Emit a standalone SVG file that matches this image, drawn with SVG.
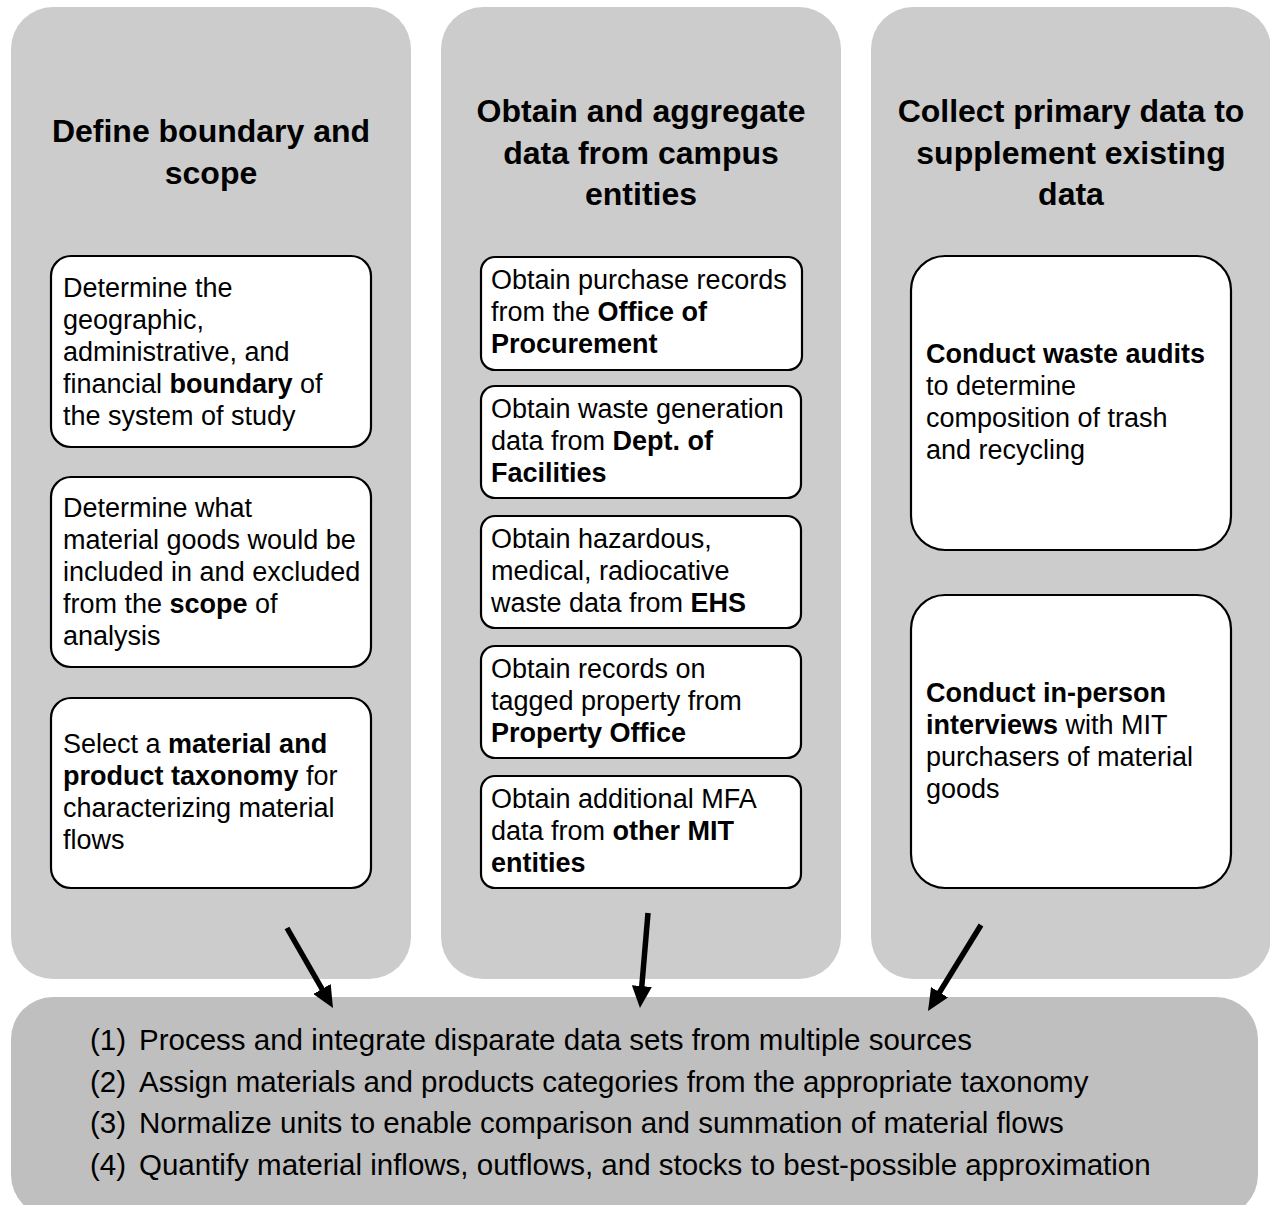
<svg xmlns="http://www.w3.org/2000/svg" width="1270" height="1205" viewBox="0 0 1270 1205">
<style>
.panel{fill:#cccccc;}
.bottom{fill:#bfbfbf;}
.box{fill:#ffffff;stroke:#000000;stroke-width:2.2;}
text{font-family:"Liberation Sans",Arial,sans-serif;fill:#000000;}
.title{font-size:32px;font-weight:bold;text-anchor:middle;}
.body{font-size:27px;}
.list{font-size:29.5px;}
.b{font-weight:bold;}
.arrow{stroke:#000000;stroke-width:5.5;fill:none;marker-end:url(#head);}
</style>
<defs>
<marker id="head" markerUnits="userSpaceOnUse" viewBox="0 0 22 20" markerWidth="22" markerHeight="20" refX="11" refY="10" orient="auto">
<path d="M0,0 L22,10 L0,20 z" fill="#000000"/>
</marker>
</defs>

<rect width="1270" height="1205" fill="#ffffff"/>

<g id="panel-boundary">
<rect class="panel" x="11" y="7" width="400" height="972" rx="42" ry="42"/>
<text class="title" x="211" y="142">Define boundary and</text>
<text class="title" x="211" y="184">scope</text>
</g>
<g id="panel-aggregate">
<rect class="panel" x="441" y="7" width="400" height="972" rx="42" ry="42"/>
<text class="title" x="641" y="122">Obtain and aggregate</text>
<text class="title" x="641" y="164">data from campus</text>
<text class="title" x="641" y="205">entities</text>
</g>
<g id="panel-primary">
<rect class="panel" x="871" y="7" width="400" height="972" rx="42" ry="42"/>
<text class="title" x="1071" y="122">Collect primary data to</text>
<text class="title" x="1071" y="164">supplement existing</text>
<text class="title" x="1071" y="205">data</text>
</g>

<g id="box-boundary">
<rect class="box" x="51" y="256" width="320" height="191" rx="20" ry="20"/>
<text class="body" x="63" y="297">Determine the</text>
<text class="body" x="63" y="329">geographic,</text>
<text class="body" x="63" y="361">administrative, and</text>
<text class="body" x="63" y="393">financial <tspan class="b">boundary</tspan> of</text>
<text class="body" x="63" y="425">the system of study</text>
</g>
<g id="box-scope">
<rect class="box" x="51" y="477" width="320" height="190" rx="20" ry="20"/>
<text class="body" x="63" y="517">Determine what</text>
<text class="body" x="63" y="549">material goods would be</text>
<text class="body" x="63" y="581">included in and excluded</text>
<text class="body" x="63" y="613">from the <tspan class="b">scope</tspan> of</text>
<text class="body" x="63" y="645">analysis</text>
</g>
<g id="box-taxonomy">
<rect class="box" x="51" y="698" width="320" height="190" rx="20" ry="20"/>
<text class="body" x="63" y="753">Select a <tspan class="b">material and</tspan></text>
<text class="body" x="63" y="785"><tspan class="b">product taxonomy</tspan> for</text>
<text class="body" x="63" y="817">characterizing material</text>
<text class="body" x="63" y="849">flows</text>
</g>

<g id="box-procurement">
<rect class="box" x="481" y="257" width="321" height="113" rx="14" ry="14"/>
<text class="body" x="491" y="289">Obtain purchase records</text>
<text class="body" x="491" y="321">from the <tspan class="b">Office of</tspan></text>
<text class="body" x="491" y="353"><tspan class="b">Procurement</tspan></text>
</g>
<g id="box-facilities">
<rect class="box" x="481" y="386" width="320" height="112" rx="14" ry="14"/>
<text class="body" x="491" y="418">Obtain waste generation</text>
<text class="body" x="491" y="450">data from <tspan class="b">Dept. of</tspan></text>
<text class="body" x="491" y="482"><tspan class="b">Facilities</tspan></text>
</g>
<g id="box-ehs">
<rect class="box" x="481" y="516" width="320" height="112" rx="14" ry="14"/>
<text class="body" x="491" y="548">Obtain hazardous,</text>
<text class="body" x="491" y="580">medical, radiocative</text>
<text class="body" x="491" y="612">waste data from <tspan class="b">EHS</tspan></text>
</g>
<g id="box-property">
<rect class="box" x="481" y="646" width="320" height="112" rx="14" ry="14"/>
<text class="body" x="491" y="678">Obtain records on</text>
<text class="body" x="491" y="710">tagged property from</text>
<text class="body" x="491" y="742"><tspan class="b">Property Office</tspan></text>
</g>
<g id="box-other">
<rect class="box" x="481" y="776" width="320" height="112" rx="14" ry="14"/>
<text class="body" x="491" y="808">Obtain additional MFA</text>
<text class="body" x="491" y="840">data from <tspan class="b">other MIT</tspan></text>
<text class="body" x="491" y="872"><tspan class="b">entities</tspan></text>
</g>

<g id="box-audits">
<rect class="box" x="911" y="256" width="320" height="294" rx="34" ry="34"/>
<text class="body" x="926" y="363"><tspan class="b">Conduct waste audits</tspan></text>
<text class="body" x="926" y="395">to determine</text>
<text class="body" x="926" y="427">composition of trash</text>
<text class="body" x="926" y="459">and recycling</text>
</g>
<g id="box-interviews">
<rect class="box" x="911" y="595" width="320" height="293" rx="34" ry="34"/>
<text class="body" x="926" y="702"><tspan class="b">Conduct in-person</tspan></text>
<text class="body" x="926" y="734"><tspan class="b">interviews</tspan> with MIT</text>
<text class="body" x="926" y="766">purchasers of material</text>
<text class="body" x="926" y="798">goods</text>
</g>

<g id="box-process">
<rect class="bottom" x="11" y="997" width="1247" height="220" rx="42" ry="42"/>
<text class="list" x="90" y="1050">(1)</text>
<text class="list" x="139" y="1050">Process and integrate disparate data sets from multiple sources</text>
<text class="list" x="90" y="1092">(2)</text>
<text class="list" x="139" y="1092">Assign materials and products categories from the appropriate taxonomy</text>
<text class="list" x="90" y="1133">(3)</text>
<text class="list" x="139" y="1133">Normalize units to enable comparison and summation of material flows</text>
<text class="list" x="90" y="1175">(4)</text>
<text class="list" x="139" y="1175">Quantify material inflows, outflows, and stocks to best-possible approximation</text>
</g>

<g id="connectors">
<line class="arrow" x1="287" y1="928" x2="327.5" y2="998.5"/>
<line class="arrow" x1="648" y1="913" x2="640.9" y2="997"/>
<line class="arrow" x1="981" y1="925" x2="933.8" y2="1001.6"/>
</g>
</svg>
